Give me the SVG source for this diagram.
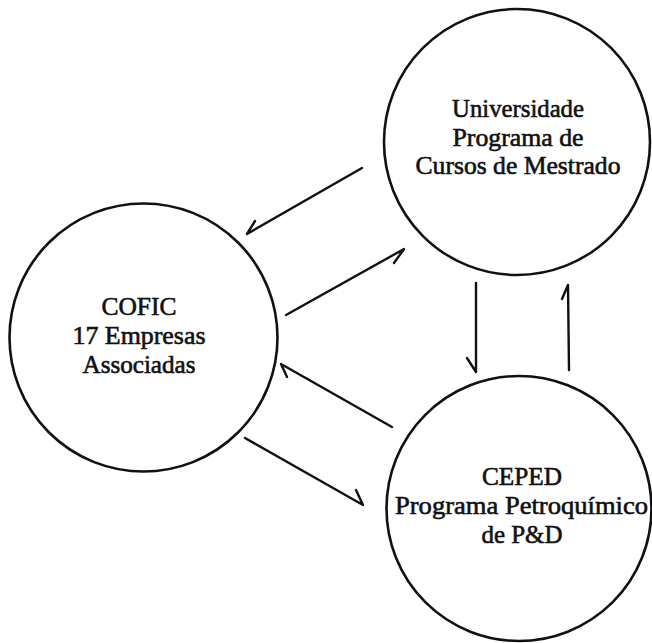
<svg xmlns="http://www.w3.org/2000/svg" width="652" height="643" viewBox="0 0 652 643">
<style>
.node{fill:none;stroke:#111;stroke-width:2.6}
.lbl{font-family:"Liberation Serif","Times New Roman",serif;font-size:25.5px;fill:#111;stroke:#111;stroke-width:0.6;text-anchor:middle}
.arr{fill:none;stroke:#111;stroke-width:2.4;stroke-linecap:round;stroke-linejoin:round}
</style>
<rect width="652" height="643" fill="#fff"/>
<g id="universidade">
<circle class="node" cx="517" cy="142" r="133"/>
<text class="lbl" x="518" y="117" textLength="132" lengthAdjust="spacingAndGlyphs">Universidade</text>
<text class="lbl" x="518" y="146" textLength="131" lengthAdjust="spacingAndGlyphs">Programa de</text>
<text class="lbl" x="518" y="174" textLength="205" lengthAdjust="spacingAndGlyphs">Cursos de Mestrado</text>
</g>
<g id="cofic">
<circle class="node" cx="143.5" cy="337.5" r="134"/>
<text class="lbl" x="139" y="315" textLength="75" lengthAdjust="spacingAndGlyphs">COFIC</text>
<text class="lbl" x="139" y="344" textLength="133" lengthAdjust="spacingAndGlyphs">17 Empresas</text>
<text class="lbl" x="139" y="373" textLength="113" lengthAdjust="spacingAndGlyphs">Associadas</text>
</g>
<g id="ceped">
<circle class="node" cx="519" cy="508.5" r="132.5"/>
<text class="lbl" x="522" y="485" textLength="80" lengthAdjust="spacingAndGlyphs">CEPED</text>
<text class="lbl" x="521.5" y="514" textLength="253" lengthAdjust="spacingAndGlyphs">Programa Petroquímico</text>
<text class="lbl" x="522" y="543" textLength="81" lengthAdjust="spacingAndGlyphs">de P&amp;D</text>
</g>
<g id="connectors">
<path class="arr" d="M362,168 L247,234 L255,221"/>
<path class="arr" d="M286,315 L404,249 L394,263"/>
<path class="arr" d="M392,427 L281,364 L287,377"/>
<path class="arr" d="M245,438 L363,505 L356,490"/>
<path class="arr" d="M476,283 L476,372 L467,358"/>
<path class="arr" d="M569,370 L568,285 L562,299"/>
</g>
</svg>
